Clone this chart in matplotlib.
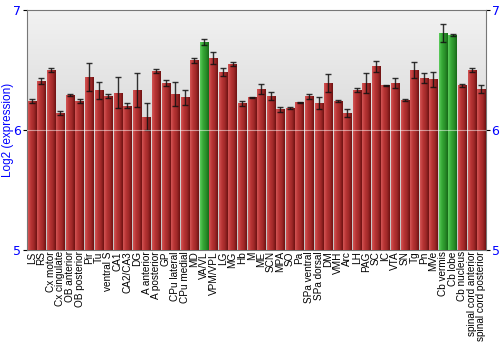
import numpy as np
import matplotlib
matplotlib.use("Agg")
import matplotlib.pyplot as plt
from matplotlib.colors import LinearSegmentedColormap

# ---------------------------------------------------------
# Data
# ---------------------------------------------------------
regions = ["LS", "RS", "Cx motor", "Cx cingulate", "OB anterior", "OB posterior",
           "Pir", "Tu", "ventral S", "CA1", "CA2/CA3", "DG", "A anterior",
           "A posterior", "GP", "CPu lateral", "CPu medial", "MD", "VA/VL",
           "VPM/VPL", "LG", "MG", "Hb", "M", "ME", "SCN", "MPA", "SO", "Pa",
           "SPa ventral", "SPa dorsal", "DM", "VMH", "Arc", "LH", "PAG", "SC",
           "IC", "VTA", "SN", "Tg", "Pn", "MVe", "Cb vermis", "Cb lobe",
           "Cb nucleus", "spinal cord anterior", "spinal cord posterior"]

expr = [6.24, 6.41, 6.50, 6.14, 6.29, 6.24, 6.44, 6.33, 6.28, 6.31, 6.20, 6.33,
        6.11, 6.49, 6.39, 6.30, 6.27, 6.58, 6.73, 6.60, 6.48, 6.55, 6.22, 6.27,
        6.34, 6.28, 6.17, 6.18, 6.23, 6.28, 6.22, 6.39, 6.24, 6.14, 6.33, 6.39,
        6.53, 6.37, 6.39, 6.25, 6.50, 6.43, 6.42, 6.81, 6.79, 6.37, 6.50, 6.34]

err = [0.015, 0.024, 0.015, 0.02, 0.01, 0.02, 0.115, 0.07, 0.015, 0.13, 0.02, 0.14,
       0.11, 0.015, 0.025, 0.10, 0.06, 0.02, 0.025, 0.05, 0.035, 0.015, 0.02, 0.003,
       0.045, 0.035, 0.02, 0.01, 0.003, 0.02, 0.05, 0.075, 0.005, 0.03, 0.015, 0.085,
       0.045, 0.005, 0.04, 0.01, 0.065, 0.04, 0.065, 0.075, 0.01, 0.015, 0.015, 0.035]

highlight = ["VA/VL", "Cb vermis", "Cb lobe"]

# ---------------------------------------------------------
# Figure
# ---------------------------------------------------------
fig = plt.figure(figsize=(5, 3.5), dpi=100)
ax = fig.add_axes([0.054, 0.286, 0.918, 0.686])

x = np.arange(len(regions))
ax.set_xlim(-0.5, len(regions) - 0.5)
ax.set_ylim(5, 7)

# gray gradient background
bg = LinearSegmentedColormap.from_list("bg", ["#c4c4c4", "#dadada", "#f2f2f2"])
grad = np.linspace(0, 1, 256).reshape(-1, 1)
ax.imshow(grad, aspect="auto", cmap=bg, origin="lower",
          extent=[-0.5, len(regions) - 0.5, 5, 7], zorder=0)

red = LinearSegmentedColormap.from_list("r", ["#d35555", "#b83535", "#a02828", "#6e1212"])
green = LinearSegmentedColormap.from_list("g", ["#5ccc5c", "#36a836", "#2a902a", "#176817"])
hgrad = np.linspace(0, 1, 64).reshape(1, -1)

bars = ax.bar(x, [v - 5 for v in expr], bottom=5, width=0.86,
              color="#b03030", edgecolor="none", zorder=2)
for name, b in zip(regions, bars):
    cm = green if name in highlight else red
    im = ax.imshow(hgrad, aspect="auto", cmap=cm,
                   extent=[b.get_x(), b.get_x() + b.get_width(), 5, 5 + b.get_height()],
                   zorder=3)
    im.set_clip_path(b)

ax.errorbar(x, expr, yerr=err, fmt="none", ecolor="#111111", elinewidth=1,
            capsize=2, capthick=1, alpha=0.85, zorder=4)

# light grid line at 6
ax.axhline(6, color="white", lw=0.8, alpha=0.5, zorder=5)

ax.set_xticks(x)
ax.set_xticklabels(regions, rotation=90, fontsize=7.2, family="Liberation Sans")
ax.tick_params(axis="x", length=0, pad=1)

ax.set_yticks([5, 6, 7])
ax.tick_params(axis="y", colors="black", labelcolor="blue", labelsize=9,
               length=3, right=True, labelright=True, pad=1)
ax.set_ylabel("Log2 (expression)", color="blue", fontsize=8.5, family="Liberation Sans")
ax.yaxis.set_label_coords(-0.028, 0.5)

for s in ax.spines.values():
    s.set_color("#777777")

fig.savefig("out.png", dpi=100)
